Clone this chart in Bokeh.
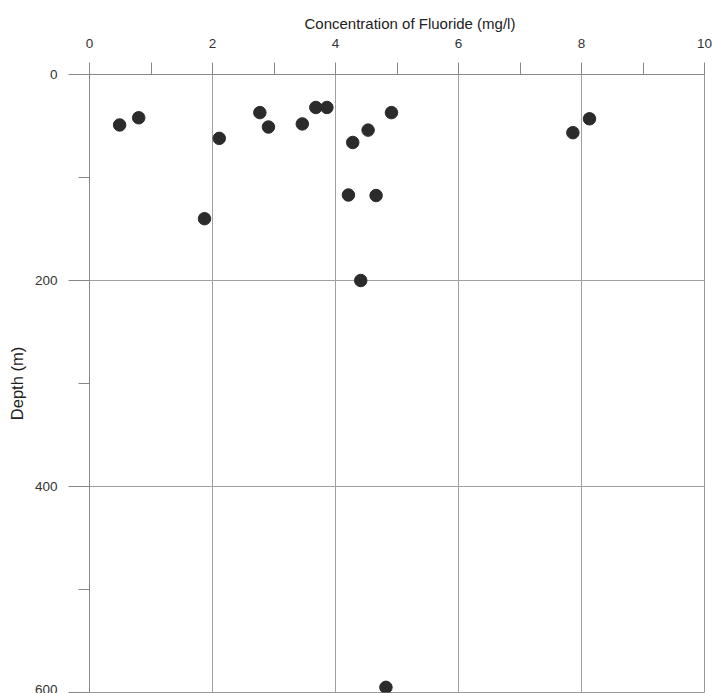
from bokeh.plotting import figure
from bokeh.models import Range1d, FixedTicker
from bokeh.embed import file_html
from bokeh.resources import INLINE

# Data
fluoride = [0.49, 0.80, 2.11, 1.87, 2.77, 2.91, 3.46, 3.68, 3.86, 4.28,
            4.53, 4.91, 4.21, 4.66, 4.41, 7.86, 8.13, 4.82]
depth = [49, 42, 62, 140, 37, 51, 48, 32, 32, 66,
         54, 37, 117, 117.5, 200, 56.5, 43, 595]

x_major = [0, 2, 4, 6, 8, 10]
x_minor = [1, 3, 5, 7, 9]
y_major = [0, 200, 400, 600]
y_minor = [100, 300, 500]

p = figure(width=712, height=693, output_backend="svg", toolbar_location=None,
           x_axis_location="above", y_axis_location="left",
           x_range=Range1d(0, 10), y_range=Range1d(600, 0),
           min_border_left=89, min_border_right=8, min_border_top=74, min_border_bottom=1)

p.background_fill_color = "white"
p.border_fill_color = "white"
p.outline_line_color = "#999999"

p.title.text = "Concentration of Fluoride (mg/l)"
p.title.align = "left"
p.title.offset = 215
p.title.standoff = 8
p.title.text_font = "Liberation Sans"
p.title.text_font_size = "15px"
p.title.text_font_style = "normal"
p.title.text_color = "#222222"

xt = FixedTicker(ticks=x_major, minor_ticks=x_minor)
yt = FixedTicker(ticks=y_major, minor_ticks=y_minor)

xa = p.xaxis[0]
xa.ticker = xt
xa.major_label_text_font = "Liberation Sans"
xa.major_label_text_font_size = "13.5px"
xa.major_label_text_color = "#333333"
xa.major_label_standoff = 15
xa.major_tick_out = 12
xa.major_tick_in = 0
xa.minor_tick_out = 12
xa.minor_tick_in = 0
xa.axis_line_color = "#888888"
xa.major_tick_line_color = "#888888"
xa.minor_tick_line_color = "#888888"

ya = p.yaxis[0]
ya.ticker = yt
ya.axis_label = "Depth (m)"
ya.axis_label_text_font = "Liberation Sans"
ya.axis_label_text_font_size = "16.5px"
ya.axis_label_text_font_style = "normal"
ya.axis_label_text_color = "#222222"
ya.axis_label_standoff = 6
ya.major_label_text_font = "Liberation Sans"
ya.major_label_text_font_size = "13.5px"
ya.major_label_text_color = "#333333"
ya.major_label_standoff = 11
ya.major_tick_out = 21
ya.major_tick_in = 0
ya.minor_tick_out = 11
ya.minor_tick_in = 0
ya.axis_line_color = "#888888"
ya.major_tick_line_color = "#888888"
ya.minor_tick_line_color = "#888888"

p.xgrid.ticker = xt
p.ygrid.ticker = yt
p.xgrid.grid_line_color = "#a0a0a0"
p.ygrid.grid_line_color = "#a0a0a0"

p.scatter(fluoride, depth, size=12.5, fill_color="#2b2b2b", line_color="#2b2b2b")

open("out.html", "w").write(file_html(p, INLINE))
